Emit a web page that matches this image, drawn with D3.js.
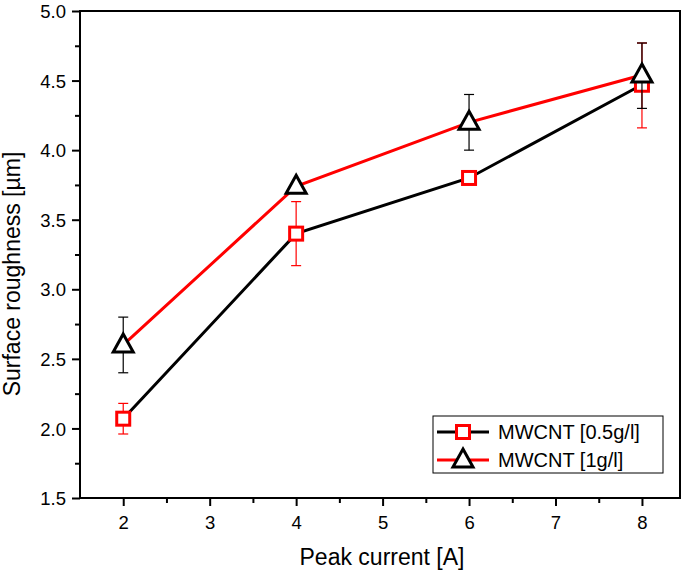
<!DOCTYPE html>
<html><head><meta charset="utf-8">
<script src="https://cdn.jsdelivr.net/npm/d3@7"></script>
<style>body{margin:0;background:#fff}text{font-family:"Liberation Sans",Arial,sans-serif}</style>
</head><body><svg id="c" width="685" height="574"></svg>
<script>
const peakCurrent = [2, 4, 6, 8];
const rough05 = [2.07, 3.40, 3.80, 4.47];
const err05Low = [1.96, 3.17, 3.80, 4.16];
const err05High = [2.18, 3.63, 3.80, 4.77];
const rough1 = [2.60, 3.74, 4.20, 4.54];
const err1Low = [2.40, 3.74, 4.00, 4.30];
const err1High = [2.80, 3.74, 4.40, 4.77];
const xTicks = [2, 3, 4, 5, 6, 7, 8];
const yTicks = [1.5, 2.0, 2.5, 3.0, 3.5, 4.0, 4.5, 5.0];
const seriesNames = ["MWCNT [0.5g/l]", "MWCNT [1g/l]"];

const svg = d3.select("#c");
const L = 80, R = 680, T = 11, B = 498;
const x = d3.scaleLinear().domain([1.5, 8.44]).range([L, R]);
const y = d3.scaleLinear().domain([1.5, 5.0]).range([B, T]);

// frame
svg.append("rect").attr("x", L).attr("y", T).attr("width", R - L).attr("height", B - T)
  .attr("fill", "none").attr("stroke", "#000").attr("stroke-width", 2);

// axes
const xAxis = svg.append("g").attr("transform", `translate(0,${B})`)
  .call(d3.axisBottom(x).tickValues(xTicks).tickFormat(d3.format("d")).tickSize(8).tickSizeOuter(0));
const xMinor = svg.append("g").attr("transform", `translate(0,${B})`)
  .call(d3.axisBottom(x).tickValues(d3.range(2.5, 8.5, 1)).tickFormat("").tickSize(5).tickSizeOuter(0));
const yAxis = svg.append("g").attr("transform", `translate(${L},0)`)
  .call(d3.axisLeft(y).tickValues(yTicks).tickFormat(d3.format(".1f")).tickSize(8).tickSizeOuter(0));
const yMinor = svg.append("g").attr("transform", `translate(${L},0)`)
  .call(d3.axisLeft(y).tickValues(d3.range(1.75, 5.0, 0.5)).tickFormat("").tickSize(5).tickSizeOuter(0));
[xAxis, xMinor, yAxis, yMinor].forEach(g => {
  g.select(".domain").remove();
  g.selectAll("line").attr("stroke", "#000").attr("stroke-width", 2);
});
xAxis.selectAll("text").attr("font-size", 18.5).attr("fill", "#000").attr("dy", null).attr("y", 31);
yAxis.selectAll("text").attr("font-size", 18.5).attr("fill", "#000").attr("x", -14).attr("dy", "0.36em");

svg.append("text").attr("x", (L + R) / 2 + 2).attr("y", 565).attr("text-anchor", "middle")
  .attr("font-size", 23).text("Peak current [A]");
svg.append("text").attr("transform", `translate(20,${274}) rotate(-90)`).attr("text-anchor", "middle")
  .attr("font-size", 23).text("Surface roughness [µm]");

function drawSeries(vals, lo, hi, lineColor, markerColor, marker) {
  const pts = peakCurrent.map((d, i) => [d, vals[i], lo[i], hi[i]]);
  svg.append("path").datum(pts)
    .attr("d", d3.line().x(d => x(d[0])).y(d => y(d[1])))
    .attr("fill", "none").attr("stroke", lineColor).attr("stroke-width", 3);
  const eb = svg.append("g").attr("stroke", markerColor).attr("stroke-width", 1.2);
  pts.filter(d => d[3] > d[2]).forEach(d => {
    eb.append("line").attr("x1", x(d[0])).attr("x2", x(d[0])).attr("y1", y(d[2])).attr("y2", y(d[3]));
    [d[2], d[3]].forEach(v => eb.append("line").attr("x1", x(d[0]) - 5).attr("x2", x(d[0]) + 5)
      .attr("y1", y(v)).attr("y2", y(v)));
  });
  pts.forEach(d => drawMarker(x(d[0]), y(d[1]), marker, markerColor));
}
function drawMarker(cx, cy, marker, color) {
  if (marker === "square") {
    svg.append("rect").attr("x", cx - 6.5).attr("y", cy - 6.5).attr("width", 13).attr("height", 13)
      .attr("fill", "#fff").attr("stroke", color).attr("stroke-width", 3);
  } else {
    svg.append("path").attr("d", `M${cx},${cy - 11}L${cx + 10},${cy + 7}L${cx - 10},${cy + 7}Z`)
      .attr("fill", "#fff").attr("stroke", color).attr("stroke-width", 3).attr("stroke-linejoin", "miter");
  }
}
drawSeries(rough05, err05Low, err05High, "#000", "#ff0000", "square");
drawSeries(rough1, err1Low, err1High, "#ff0000", "#000", "triangle");

// legend
const lg = svg.append("g");
lg.append("rect").attr("x", 433).attr("y", 416).attr("width", 230).attr("height", 57)
  .attr("fill", "#fff").attr("stroke", "#000").attr("stroke-width", 1);
const rows = [["#000", "#ff0000", "square"], ["#ff0000", "#000", "triangle"]];
rows.forEach((r, i) => {
  const yy = 432 + i * 28;
  lg.append("line").attr("x1", 437).attr("x2", 489).attr("y1", yy).attr("y2", yy)
    .attr("stroke", r[0]).attr("stroke-width", 3);
  drawMarker(463, yy, r[2], r[1]);
  lg.append("text").attr("x", 498).attr("y", yy + 6.5).attr("font-size", 20).text(seriesNames[i]);
});
</script></body></html>
